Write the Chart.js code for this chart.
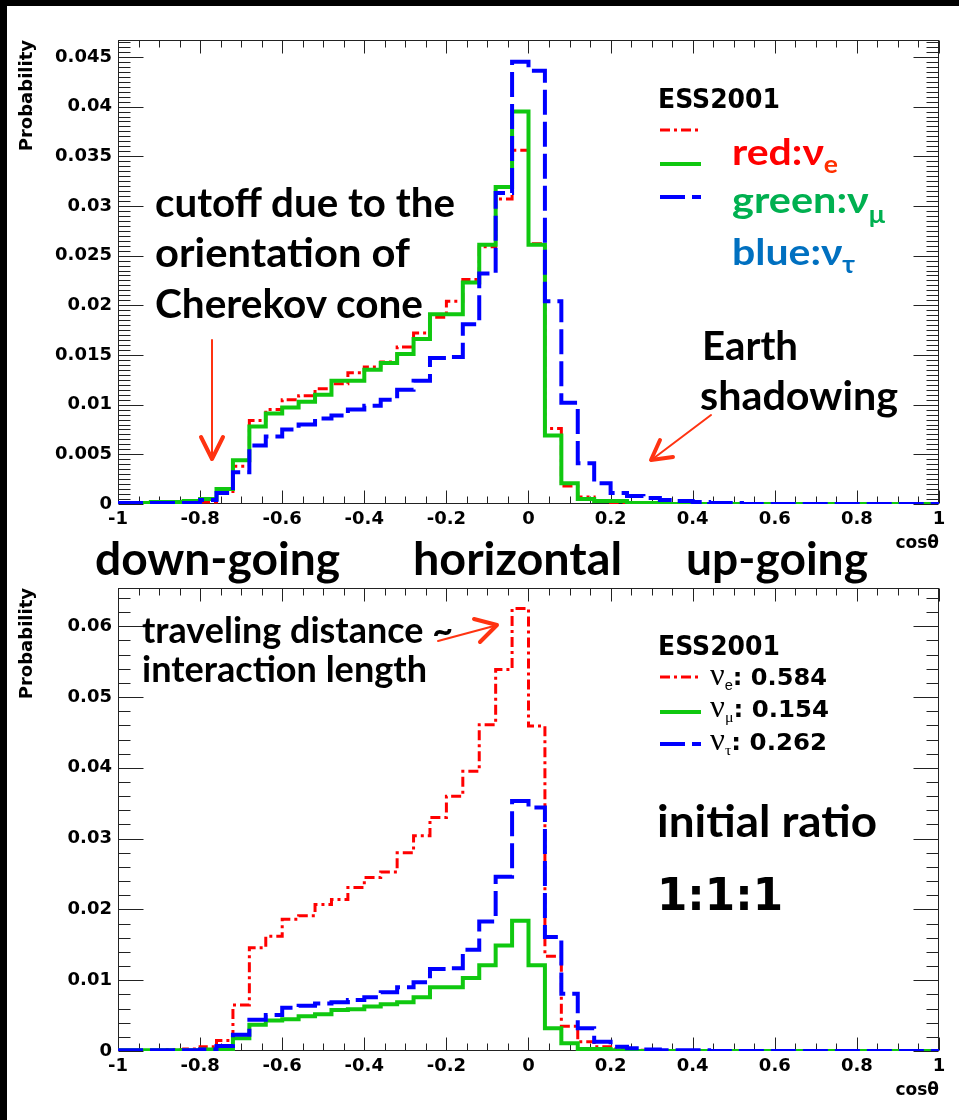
<!DOCTYPE html>
<html>
<head>
<meta charset="utf-8">
<title>ESS2001 neutrino zenith-angle distributions</title>
<script src="https://cdn.jsdelivr.net/npm/chart.js@4.4.1/dist/chart.umd.min.js"></script>
<style>
  html, body { margin: 0; padding: 0; background: #000; width: 959px; height: 1120px; overflow: hidden; }
  #sheet { position: absolute; left: 7px; top: 6px; right: 0; bottom: 0; background: #fff; }
  canvas { position: absolute; left: 0; }
  #topChart { top: 0; }
  #bottomChart { top: 560px; }
  #notes { position: absolute; left: 0; top: 0; pointer-events: none; }
</style>
</head>
<body>
<div id="sheet"></div>
<canvas id="topChart" width="959" height="560"></canvas>
<canvas id="bottomChart" width="959" height="560"></canvas>

<svg id="notes" width="959" height="1120" viewBox="0 0 959 1120" xmlns="http://www.w3.org/2000/svg">
  <!-- free text notes -->
  <g font-family="Lato, 'Noto Sans', sans-serif" font-weight="700" fill="#000">
    <text x="155" y="217" font-size="40" textLength="300" lengthAdjust="spacingAndGlyphs">cutoff due to the</text>
    <text x="155" y="267" font-size="40" textLength="255" lengthAdjust="spacingAndGlyphs">orientation of</text>
    <text x="155" y="318" font-size="40" textLength="268" lengthAdjust="spacingAndGlyphs">Cherekov cone</text>
    <text x="702" y="360" font-size="40" textLength="96" lengthAdjust="spacingAndGlyphs">Earth</text>
    <text x="700" y="410" font-size="40" textLength="198" lengthAdjust="spacingAndGlyphs">shadowing</text>
    <text x="95" y="575" font-size="46" textLength="245" lengthAdjust="spacingAndGlyphs">down-going</text>
    <text x="413" y="575" font-size="46" textLength="209" lengthAdjust="spacingAndGlyphs">horizontal</text>
    <text x="686" y="575" font-size="46" textLength="182" lengthAdjust="spacingAndGlyphs">up-going</text>
    <text x="142" y="643" font-size="36" textLength="311" lengthAdjust="spacingAndGlyphs">traveling distance ~</text>
    <text x="142" y="682" font-size="36" textLength="285" lengthAdjust="spacingAndGlyphs">interaction length</text>
    <text x="657" y="837" font-size="44" textLength="220" lengthAdjust="spacingAndGlyphs">initial ratio</text>
    <text x="732" y="165" font-size="37" fill="#ff0000" textLength="106" lengthAdjust="spacingAndGlyphs">red:ν<tspan font-size="24" dy="8" fill="#ff3000">e</tspan></text>
    <text x="732" y="213" font-size="37" fill="#00b050" textLength="153" lengthAdjust="spacingAndGlyphs">green:ν<tspan font-size="24" dy="10">μ</tspan></text>
    <text x="732" y="265" font-size="37" fill="#0070c0" textLength="123" lengthAdjust="spacingAndGlyphs">blue:ν<tspan font-size="24" dy="8">τ</tspan></text>
  </g>

  <!-- legend headers and entries -->
  <g font-family="'DejaVu Sans', sans-serif" font-weight="700" fill="#000">
    <text x="658" y="108" font-size="26" textLength="122" lengthAdjust="spacingAndGlyphs">ESS2001</text>
    <text x="658" y="655" font-size="26" textLength="122" lengthAdjust="spacingAndGlyphs">ESS2001</text>
    <text x="657" y="910" font-size="44" textLength="126" lengthAdjust="spacingAndGlyphs">1:1:1</text>
    <text x="710" y="685" font-size="23" textLength="117" lengthAdjust="spacingAndGlyphs"><tspan font-family="'Liberation Serif', serif" font-weight="400" font-size="31">ν</tspan><tspan font-family="'Liberation Sans', sans-serif" font-weight="400" font-size="14" dy="5">e</tspan><tspan dy="-5">: 0.584</tspan></text>
    <text x="710" y="717" font-size="23" textLength="119" lengthAdjust="spacingAndGlyphs"><tspan font-family="'Liberation Serif', serif" font-weight="400" font-size="31">ν</tspan><tspan font-family="'Liberation Serif', serif" font-weight="400" font-size="15" dy="5">μ</tspan><tspan dy="-5">: 0.154</tspan></text>
    <text x="710" y="750" font-size="23" textLength="117" lengthAdjust="spacingAndGlyphs"><tspan font-family="'Liberation Serif', serif" font-weight="400" font-size="31">ν</tspan><tspan font-family="'Liberation Serif', serif" font-weight="400" font-size="15" dy="5">τ</tspan><tspan dy="-5">: 0.262</tspan></text>
  </g>

  <!-- legend line samples -->
  <g fill="none" stroke-linecap="butt">
    <line x1="660" y1="130" x2="698" y2="130" stroke="#ff0000" stroke-width="3" stroke-dasharray="10 4 3 4"/>
    <line x1="660" y1="164" x2="701" y2="164" stroke="#10c810" stroke-width="4"/>
    <line x1="660" y1="197" x2="701" y2="197" stroke="#0000ff" stroke-width="4" stroke-dasharray="25 7"/>
    <line x1="660" y1="677" x2="698" y2="677" stroke="#ff0000" stroke-width="3" stroke-dasharray="10 4 3 4"/>
    <line x1="660" y1="712" x2="701" y2="712" stroke="#10c810" stroke-width="4"/>
    <line x1="660" y1="744" x2="701" y2="744" stroke="#0000ff" stroke-width="4" stroke-dasharray="25 7"/>
  </g>

  <!-- pointer arrows -->
  <g stroke="#ff3311" fill="none" stroke-linecap="round" stroke-linejoin="round">
    <line x1="212" y1="340" x2="212" y2="456" stroke-width="2"/>
    <polyline points="201,437 212,459 223,437" stroke-width="4"/>
    <line x1="711" y1="415" x2="654" y2="458" stroke-width="2"/>
    <polyline points="660,440 651,460 673,457" stroke-width="4"/>
    <line x1="438" y1="641" x2="494" y2="626" stroke-width="2"/>
    <polyline points="474,619 497,625 480,642" stroke-width="4"/>
  </g>
</svg>

<script>
// cos(theta) bins: lower edges, width 0.04
const binLow = [-1.00,-0.96,-0.92,-0.88,-0.84,-0.80,-0.76,-0.72,-0.68,-0.64,
                -0.60,-0.56,-0.52,-0.48,-0.44,-0.40,-0.36,-0.32,-0.28,-0.24,
                -0.20,-0.16,-0.12,-0.08,-0.04, 0.00, 0.04, 0.08, 0.12, 0.16,
                 0.20, 0.24, 0.28, 0.32, 0.36, 0.40, 0.44, 0.48, 0.52, 0.56,
                 0.60, 0.64, 0.68, 0.72, 0.76, 0.80, 0.84, 0.88, 0.92, 0.96];
const binHigh = 1.0;

// upper panel: probability per bin
const topNuE = [0,0,0,0,0.0001,0.0002,0.0011,0.0038,0.0084,0.0095,
                0.0105,0.0109,0.0116,0.0121,0.0132,0.0138,0.0143,0.0158,0.0172,0.0188,
                0.0204,0.0226,0.0259,0.0307,0.0356,0.0262,0.0076,0.0018,0.0007,0.0003,
                0.0001,0,0,0,0,0,0,0,0,0,
                0,0,0,0,0,0,0,0,0,0];
const topNuMu = [0.0001,0.0001,0.0002,0.0002,0.0003,0.0005,0.0015,0.0044,0.0078,0.0091,
                 0.0097,0.0103,0.0110,0.0124,0.0124,0.0135,0.0142,0.0151,0.0166,0.0191,
                 0.0191,0.0223,0.0261,0.0319,0.0395,0.0261,0.0069,0.0021,0.0005,0.0003,
                 0.0003,0.0001,0.0001,0,0,0,0,0,0,0,
                 0,0,0,0,0,0,0,0,0,0];
const topNuTau = [0.0001,0.0001,0.0001,0.0001,0.0001,0.0004,0.0011,0.0032,0.0059,0.0068,
                  0.0075,0.0080,0.0086,0.0089,0.0095,0.0099,0.0105,0.0115,0.0124,0.0147,
                  0.0148,0.0181,0.0232,0.0313,0.0445,0.0436,0.0204,0.0102,0.0041,0.0021,
                  0.0011,0.0008,0.0006,0.0004,0.0003,0.0002,0.0001,0.0001,0,0,
                  0,0,0,0,0,0,0,0,0,0];

// lower panel: probability per bin
const botNuE = [0,0,0,0.0002,0.0003,0.0006,0.0015,0.0065,0.0146,0.0162,
                0.0186,0.0191,0.0207,0.0214,0.0231,0.0245,0.0253,0.0280,0.0304,0.0330,
                0.0360,0.0395,0.0461,0.0539,0.0625,0.0459,0.0134,0.0035,0.0013,0.0006,
                0.0003,0.0001,0,0,0,0,0,0,0,0,
                0,0,0,0,0,0,0,0,0,0];
const botNuMu = [0.0001,0.0001,0.0001,0.0001,0.0001,0.0002,0.0003,0.0018,0.0037,0.0043,
                 0.0045,0.0049,0.0052,0.0058,0.0059,0.0063,0.0066,0.0069,0.0076,0.0090,
                 0.0090,0.0103,0.0121,0.0149,0.0184,0.0121,0.0032,0.0011,0.0003,0.0003,
                 0.0001,0,0,0,0,0,0,0,0,0,
                 0,0,0,0,0,0,0,0,0,0];
const botNuTau = [0.0001,0.0001,0.0001,0.0001,0.0001,0.0002,0.0007,0.0023,0.0044,0.0051,
                  0.0061,0.0064,0.0067,0.0069,0.0072,0.0076,0.0083,0.0090,0.0097,0.0116,
                  0.0117,0.0143,0.0183,0.0246,0.0353,0.0344,0.0161,0.0081,0.0032,0.0013,
                  0.0006,0.0004,0.0002,0.0001,0.0001,0.0001,0,0,0,0,
                  0,0,0,0,0,0,0,0,0,0];

// axis tick labels
const xTickValues = [-1,-0.8,-0.6,-0.4,-0.2,0,0.2,0.4,0.6,0.8,1];
const yTickValuesTop = [0,0.005,0.01,0.015,0.02,0.025,0.03,0.035,0.04,0.045];
const yTickValuesBottom = [0,0.01,0.02,0.03,0.04,0.05,0.06];

const tickFont = { family: "'DejaVu Sans', sans-serif", weight: 'bold', size: 18 };
const xTitleFont = { family: "'DejaVu Sans', sans-serif", weight: 'bold', size: 17 };
const yTitleFont = { family: "'DejaVu Sans', sans-serif", weight: 'bold', size: 18 };
const fmt = v => String(+Number(v).toFixed(4));

// histogram as a step line: one point per lower edge plus the closing edge
function hist(vals) {
  const pts = binLow.map((x, i) => ({ x, y: vals[i] }));
  pts.push({ x: binHigh, y: vals[vals.length - 1] });
  return pts;
}

// ROOT-style frame with inward major/minor ticks on all four sides
const rootFrame = {
  id: 'rootFrame',
  beforeDatasetsDraw(chart, _args, o) {
    const { ctx, chartArea: a } = chart;
    const xs = chart.scales.x, ys = chart.scales.y;
    const L = Math.round(a.left) + 0.5, R = Math.round(a.right) - 0.5;
    const T = Math.round(a.top) + 0.5, B = Math.round(a.bottom) - 0.5;
    ctx.save();
    ctx.strokeStyle = '#222';
    ctx.lineWidth = 1;
    ctx.strokeRect(L, T, R - L, B - T);
    ctx.beginPath();
    const xStep = (o.xMajor[1] - o.xMajor[0]) / o.xSub;
    for (let k = 0; ; k++) {
      const v = o.xMajor[0] + k * xStep;
      if (v > xs.max + 1e-9) break;
      const px = Math.round(xs.getPixelForValue(v)) + 0.5;
      const len = (k % o.xSub === 0) ? o.xMajorLen : o.xMinorLen;
      ctx.moveTo(px, B); ctx.lineTo(px, B - len);
      ctx.moveTo(px, T); ctx.lineTo(px, T + len);
    }
    const yStep = (o.yMajor[1] - o.yMajor[0]) / o.ySub;
    for (let k = 0; ; k++) {
      const v = o.yMajor[0] + k * yStep;
      if (v > ys.max + 1e-12) break;
      const py = Math.round(ys.getPixelForValue(v)) + 0.5;
      const len = (k % o.ySub === 0) ? o.yMajorLen : o.yMinorLen;
      ctx.moveTo(L, py); ctx.lineTo(L + len, py);
      ctx.moveTo(R, py); ctx.lineTo(R - len, py);
    }
    ctx.stroke();
    ctx.restore();
  }
};

function makeChart(canvasId, nuE, nuMu, nuTau, yMax, yTicks, ySub, padTop, padBottom) {
  return new Chart(document.getElementById(canvasId), {
    type: 'line',
    data: {
      datasets: [
        { label: 'ντ', data: hist(nuTau), borderColor: '#0000ff', borderWidth: 4,
          borderDash: [25, 7], stepped: 'before', pointRadius: 0, fill: false, order: 1 },
        { label: 'νμ', data: hist(nuMu), borderColor: '#10c810', borderWidth: 4,
          stepped: 'before', pointRadius: 0, fill: false, order: 2 },
        { label: 'νe', data: hist(nuE), borderColor: '#ff0000', borderWidth: 3,
          borderDash: [10, 4, 3, 4], stepped: 'before', pointRadius: 0, fill: false, order: 3 }
      ]
    },
    options: {
      responsive: false,
      animation: false,
      devicePixelRatio: 1,
      events: [],
      layout: { autoPadding: false, padding: { left: 0, right: 20, top: padTop, bottom: padBottom } },
      plugins: {
        legend: { display: false },
        tooltip: { enabled: false },
        rootFrame: {
          xMajor: xTickValues, xSub: 4, xMajorLen: 13, xMinorLen: 7,
          yMajor: yTicks, ySub: ySub, yMajorLen: 25, yMinorLen: 12
        }
      },
      scales: {
        x: {
          type: 'linear', min: -1, max: 1, position: 'bottom',
          afterBuildTicks: s => { s.ticks = xTickValues.map(v => ({ value: v })); },
          afterFit: s => { s.height = 50; },
          grid: { display: false, drawTicks: false },
          border: { display: false },
          ticks: { autoSkip: false, maxRotation: 0, minRotation: 0, padding: 5,
                   color: '#000', font: tickFont, callback: v => fmt(v) },
          title: { display: true, text: 'cosθ', align: 'end', color: '#000',
                   font: xTitleFont, padding: { top: 0, bottom: 0 } }
        },
        y: {
          type: 'linear', min: 0, max: yMax, position: 'left',
          afterBuildTicks: s => { s.ticks = yTicks.map(v => ({ value: v })); },
          afterFit: s => { s.width = 118; },
          grid: { display: false, drawTicks: false },
          border: { display: false },
          ticks: { padding: 6, color: '#000', font: tickFont, callback: v => fmt(v) },
          title: { display: true, text: 'Probability', align: 'end', color: '#000',
                   font: yTitleFont, padding: { top: 17, bottom: 0 } }
        }
      }
    },
    plugins: [rootFrame]
  });
}

makeChart('topChart', topNuE, topNuMu, topNuTau, 0.0467, yTickValuesTop, 10, 40, 6);
makeChart('bottomChart', botNuE, botNuMu, botNuTau, 0.0654, yTickValuesBottom, 5, 28, 19);
</script>
</body>
</html>
